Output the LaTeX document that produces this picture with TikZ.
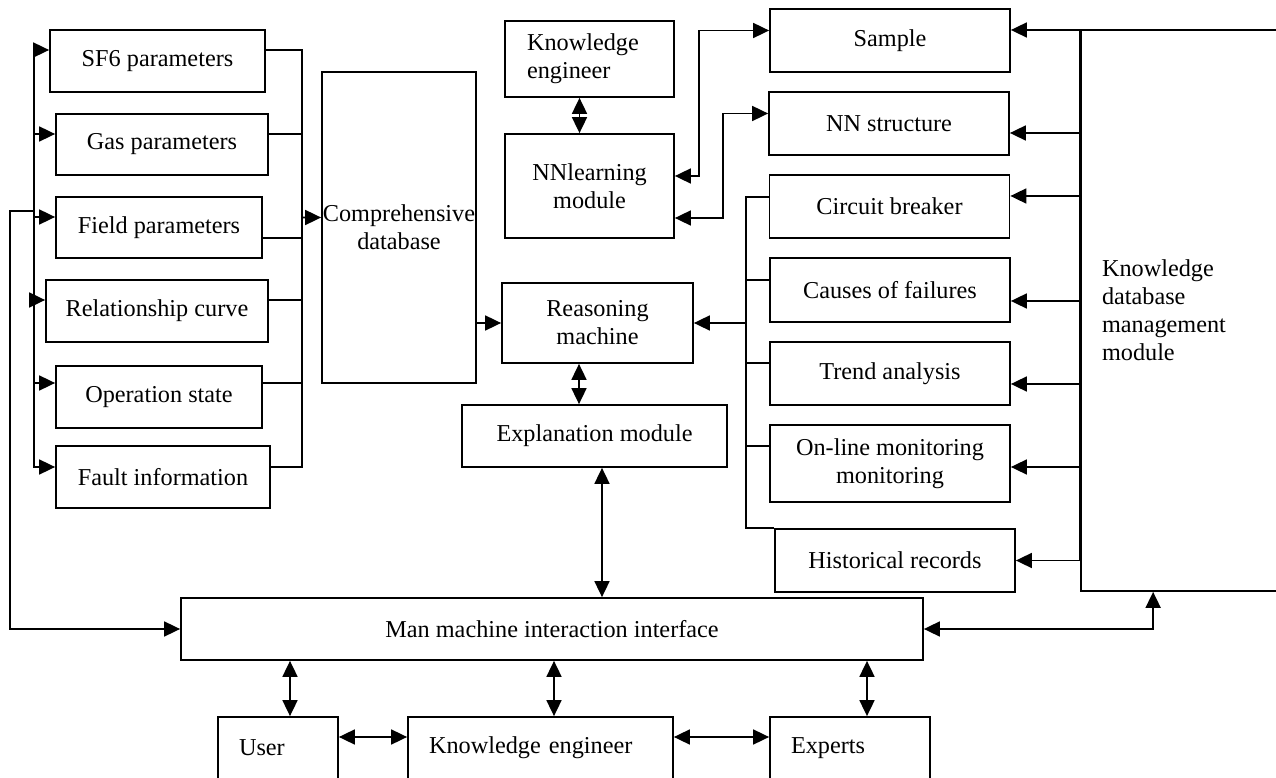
\documentclass[tikz,border=0pt]{standalone}
\usepackage{fontspec}
\setmainfont{Liberation Serif}
\usetikzlibrary{arrows.meta}

\begin{document}
\begin{tikzpicture}[x=0.2mm, y=-0.2mm, line width=1pt,
  font=\fontsize{13.8}{16}\selectfont,
  box/.style={draw, align=center, inner sep=1pt},
  lbox/.style={draw, align=left, inner xsep=4.2mm},
  arr/.style={-{Triangle[length=3.2mm,width=3mm]}},
  darr/.style={{Triangle[length=3.2mm,width=3mm]}-{Triangle[length=3.2mm,width=3mm]}}]

\useasboundingbox (0,0) rectangle (1276,778);
\clip (0,0) rectangle (1276,778);

% input data
\node [box, minimum width=43mm, minimum height=12.4mm] (sf6) at (157.5,61) {SF6 parameters};
\node [box, minimum width=42.4mm, minimum height=12.2mm] (gas) at (162,144.5) {Gas parameters};
\node [box, minimum width=41.2mm, minimum height=12.2mm] (field) at (159,227.5) {Field parameters};
\node [box, minimum width=44.4mm, minimum height=12.4mm] (rel) at (157,311) {Relationship curve};
\node [box, minimum width=41.2mm, minimum height=12.4mm] (oper) at (159,397) {Operation state};
\node [box, minimum width=42.8mm, minimum height=12.4mm] (fault) at (163,477) {Fault information};
\node [box, inner xsep=0pt, minimum width=30.8mm, minimum height=62.2mm] (comp) at (399,227.5) {Comprehensive\\database};

% learning and reasoning
\node [lbox, text width=25mm, minimum width=33.8mm, minimum height=15.2mm] (ke1) at (589.5,59) {Knowledge\\engineer};
\node [box, minimum width=33.8mm, minimum height=20.8mm] (nnl) at (589.5,186) {NNlearning\\module};
\node [box, minimum width=38.2mm, minimum height=16mm] (reason) at (597.5,323) {Reasoning\\machine};
\node [box, minimum width=53mm, minimum height=12.4mm] (expl) at (594.5,436) {Explanation module};

% knowledge base
\node [box, minimum width=48mm, minimum height=12.6mm] (sample) at (890,40.5) {Sample};
\node [box, minimum width=48mm, minimum height=12.6mm] (nns) at (889,123.5) {NN structure};
\node [box, minimum width=48mm, minimum height=12.6mm] (cb) at (889.5,206.5) {Circuit breaker};
\node [box, minimum width=48mm, minimum height=12.8mm] (cof) at (890,290) {Causes of failures};
\node [box, minimum width=48mm, minimum height=12.6mm] (trend) at (890,373.5) {Trend analysis};
\node [box, minimum width=48mm, minimum height=15.4mm] (online) at (890,463.5) {On-line monitoring\\monitoring};
\node [box, minimum width=48mm, minimum height=12.6mm] (hist) at (895,560.5) {Historical records};
\node [lbox, text width=35.4mm, minimum width=43.8mm, minimum height=112.2mm] (kdb) at (1190.5,310.5) {Knowledge\\database\\management\\module};

% interface and users
\node [box, minimum width=148.4mm, minimum height=12.4mm] (man) at (552,629) {Man machine interaction interface};
\node [lbox, text width=15.6mm, minimum width=24mm, minimum height=12.4mm] (user) at (278,748) {User};
\node [lbox, text width=44.6mm, minimum width=53mm, minimum height=12.4mm] (ke2) at (540.5,748) {Knowledge engineer};
\node [lbox, text width=23.6mm, minimum width=32mm, minimum height=12.4mm] (exp) at (850,748) {Experts};

% buses
\coordinate (ltop) at (34,50);
\coordinate (rtop) at (302,50);
\coordinate (mtop) at (746,197);
\coordinate (ljoin) at (34,211);
\coordinate (lout) at (10,211);

\foreach \b/\u/\v in {sf6/2.2/2.2, gas/2.1/2.1, field/2.1/-2.1, rel/2.2/2.2, oper/2.8/2.8, fault/2/2}
{
  \draw [arr] (ltop) |- ([yshift=\u mm]\b.west);
  \draw ([yshift=\v mm]\b.east) -| (rtop);
}
\draw [arr] (rtop |- comp.west) ++(0,-10) -- ([yshift=2mm]comp.west);
\draw [arr] (ljoin) -- (lout) |- (man.west);
\draw [arr] (comp.east |- reason.west) -- (reason.west);

\draw [darr] ([xshift=-2mm]ke1.south) -- ([xshift=-2mm]nnl.north);
\draw [darr] ([yshift=2mm]nnl.east) -- ++(24,0) |- ([yshift=2mm]sample.west);
\draw [darr] ([yshift=-6.4mm]nnl.east) -- ++(48,0) |- ([yshift=2mm]nns.west);
\draw [darr] ([xshift=-3.7mm]reason.south) -- ([xshift=-3.1mm]expl.north);
\draw [darr] ([xshift=1.5mm]expl.south) -- ([xshift=1.5mm]expl.south |- man.north);

\foreach \b/\u in {cb/1.9, cof/2, trend/2.1, online/3.5}
  \draw (mtop) |- ([yshift=\u mm]\b.west);
\draw (mtop) |- (hist.north west);
\draw [arr] (mtop |- reason.east) -- (reason.east);

\foreach \b/\u in {sample/2.1, nns/-1.9, cb/2.1, cof/-2.2, trend/-2.1, online/-0.7, hist/0}
  \draw [arr] (kdb.north west) |- ([yshift=\u mm]\b.east);
\draw [darr] (man.east) -| ([xshift=14.6mm]kdb.south west);

\draw [darr] ([xshift=2.4mm]user.north) -- ([xshift=2.4mm]user.north |- man.south);
\draw [darr] ([xshift=2.7mm]ke2.north) -- ([xshift=2.7mm]ke2.north |- man.south);
\draw [darr] ([xshift=3.4mm]exp.north) -- ([xshift=3.4mm]exp.north |- man.south);
\draw [darr] ([yshift=2.2mm]user.east) -- ([yshift=2.2mm]ke2.west);
\draw [darr] ([yshift=2.2mm]ke2.east) -- ([yshift=2.2mm]exp.west);

\end{tikzpicture}
\end{document}
